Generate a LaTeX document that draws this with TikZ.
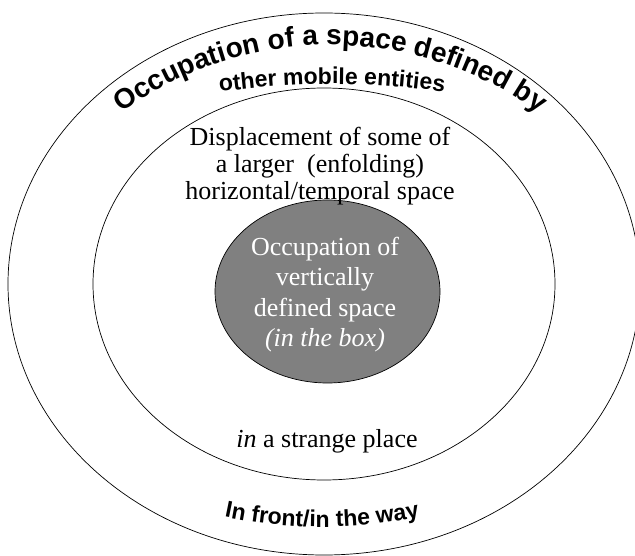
\documentclass[tikz,border=0pt]{standalone}
\usepackage{fontspec}
\setmainfont{Liberation Serif}
\newfontfamily\arcfont{Liberation Sans}
\usepackage{tikz}
\usetikzlibrary{calc,decorations.text}
\definecolor{cCore}{HTML}{808080}
\definecolor{cInk}{HTML}{000000}
\newcommand{\wordart}[1]{|\arcfont\bfseries\fontsize{#1}{#1}\selectfont|}
\tikzset{
  ring/.style={draw=cInk, line width=0.7pt},
  core/.style={ring, fill=cCore},
  lbl/.style={align=center, inner sep=0pt, font=\fontsize{26}{27}\selectfont},
  arcword/.style={decorate, decoration={text along path, text align=center, text={#1}}}
}

\begin{document}
\begin{tikzpicture}[x=1pt,y=1pt]
\useasboundingbox (0,0) rectangle (635,555);
% rings, outside in
\draw[ring] (324,271) ellipse [x radius=316, y radius=271];
\draw[ring] (324,271) ellipse [x radius=231, y radius=196];
\draw[core] (327.5,263.5) ellipse [x radius=112.5, y radius=91.5];
% plain labels
\node[lbl] (disp) at (320,389) {Displacement of some of\\a larger~ (enfolding)\\horizontal/temporal space};
\node[lbl, text=white, font=\fontsize{26}{30.5}\selectfont] (occ) at (325,260.5) {Occupation of\\vertically\\defined space\\\textit{(in the box)}};
\node[lbl, anchor=base] (odd) at (327,108) {\textit{in} a strange place};
% curved labels
\coordinate (topc) at (330,155);
\coordinate (midc) at (332,-329);
\coordinate (lowc) at (322,503);
\path[arcword={\wordart{28}Occupation of a space defined by}] ($(topc)+(130:355)$) arc[start angle=130, end angle=50, radius=355];
\path[arcword={\wordart{23}other mobile entities}] ($(midc)+(100:800)$) arc[start angle=100, end angle=80, radius=800];
\path[arcword={\wordart{23}In front/in the way}] ($(lowc)+(250:475)$) arc[start angle=250, end angle=290, radius=475];
\end{tikzpicture}
\end{document}
